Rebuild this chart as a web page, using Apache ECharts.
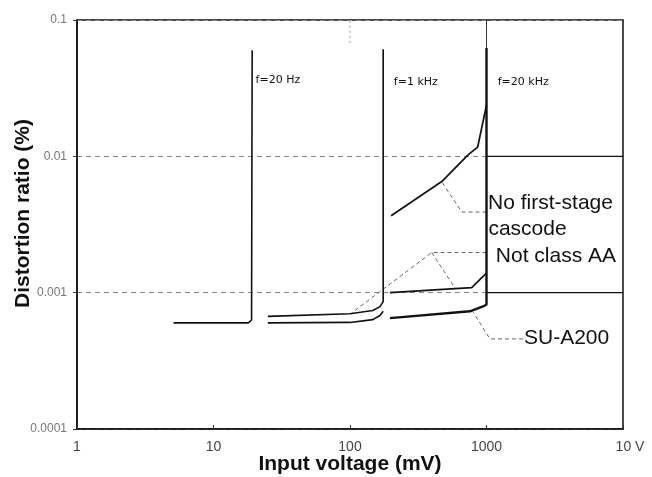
<!DOCTYPE html>
<html>
<head>
<meta charset="utf-8">
<script src="https://cdn.jsdelivr.net/npm/echarts@6/dist/echarts.min.js"></script>
<style>
html,body{margin:0;padding:0;background:#fff;}
#chart{width:652px;height:477px;}
</style>
</head>
<body>
<div id="chart"></div>
<script>
// ---- tick labels ----
const xTickLabels = ['1', '10', '100', '1000', '10 V'];
const yTickLabels = ['0.0001', '0.001', '0.01', '0.1'];

// ---- curves: [input voltage (mV), distortion ratio (%)] ----
const f20Hz       = [[5.1, 0.0006], [18, 0.0006], [19, 0.00063], [19.2, 0.060]];
const notAA_1k    = [[25, 0.00067], [100, 0.0007], [147, 0.00074], [166, 0.00079], [175, 0.00086], [175, 0.061]];
const su_1k       = [[25, 0.0006], [100, 0.000605], [147, 0.000634], [166, 0.00068], [175, 0.00073]];
const cascode_20k = [[200, 0.00367], [470, 0.00653], [736, 0.0103], [862, 0.0117], [1000, 0.0238]];
const notAA_20k   = [[196, 0.001], [779, 0.00109], [948, 0.00132], [1000, 0.0014]];
const su_20k      = [[196, 0.00065], [757, 0.00073], [964, 0.0008], [1000, 0.00082], [1000, 0.0624]];

// ---- reference lines ----
const gridSolid01  = [[1000, 0.01], [10000, 0.01]];
const gridSolid001 = [[1000, 0.001], [10000, 0.001]];
const grid1000Top  = [[1000, 0.0624], [1000, 0.1]];
const grid100Top   = [[100, 0.068], [100, 0.1]];

// ---- leader lines for annotations ----
const leadCascode = [[1000, 0.0039], [660, 0.0039], [470, 0.0065]];
const leadNotAA_a = [[1000, 0.00197], [397, 0.00197], [103, 0.00071]];
const leadNotAA_b = [[397, 0.00197], [588, 0.00108]];
const leadSU      = [[1850, 0.000458], [1060, 0.000458], [990, 0.00051], [800, 0.000718]];

// ---- annotation texts ----
const freqLabels = [[20, 0.0363, 'f=20 Hz'], [206, 0.0353, 'f=1 kHz'], [1188, 0.0353, 'f=20 kHz']];
const noteLabels = [[1010, 0.00456, 'No first-stage'], [1015, 0.00294, 'cascode'],
                    [1150, 0.001845, 'Not class AA'], [1850, 0.00046, 'SU-A200']];

const chart = echarts.init(document.getElementById('chart'), null, {renderer: 'canvas'});

function curve(name, data, w) {
  return {
    name: name, type: 'line', data: data, symbol: 'none', silent: true,
    lineStyle: {color: '#111', width: w || 1.7}, z: 3
  };
}
function leader(data) {
  return {
    type: 'line', data: data, symbol: 'none', silent: true,
    lineStyle: {color: '#555', width: 0.9, type: [4, 3]}, z: 2
  };
}
function textSeries(data, size, family) {
  return {
    type: 'scatter', data: data, symbolSize: 0, silent: true, z: 5,
    itemStyle: {color: '#000', opacity: 1},
    label: {
      show: true, position: 'right', distance: 1,
      formatter: p => p.value[2],
      color: '#111', opacity: 1, fontSize: size, fontFamily: family
    }
  };
}

const option = {
  animation: false,
  backgroundColor: '#fff',
  grid: {left: 77, right: 29, top: 20, bottom: 48, containLabel: false, outerBoundsMode: 'none',
         show: true, borderColor: '#111', borderWidth: 1.5},
  xAxis: {
    type: 'log', logBase: 10, min: 1, max: 10000,
    name: 'Input voltage (mV)', nameLocation: 'middle', nameGap: 25, nameMoveOverlap: false,
    nameTextStyle: {fontSize: 21, fontWeight: 'bold', color: '#111', fontFamily: 'Liberation Sans, Arial, sans-serif'},
    axisLine: {lineStyle: {color: '#111', width: 1.5}},
    axisTick: {inside: true, length: 4, lineStyle: {color: '#333'}},
    splitLine: {show: false},
    axisLabel: {
      margin: 11, color: '#444', fontSize: 14,
      fontFamily: 'Liberation Sans Narrow, Liberation Sans, Arial, sans-serif',
      showMaxLabel: true, showMinLabel: true,
      formatter: v => {
        const i = Math.round(Math.log10(v));
        return i === 4 ? '{v|' + xTickLabels[i] + '}' : xTickLabels[i];
      },
      rich: {v: {color: '#444', fontSize: 14, padding: [0, 0, 0, 14],
                 fontFamily: 'Liberation Sans Narrow, Liberation Sans, Arial, sans-serif'}}
    }
  },
  yAxis: {
    type: 'log', logBase: 10, min: 0.0001, max: 0.1,
    name: 'Distortion ratio (%)', nameLocation: 'middle', nameGap: 43, nameRotate: 90, nameMoveOverlap: false,
    nameTextStyle: {fontSize: 21, fontWeight: 'bold', color: '#111', padding: [0, 0, 0, 22],
                    fontFamily: 'Liberation Sans, Arial, sans-serif'},
    axisLine: {lineStyle: {color: '#111', width: 1.5}},
    axisTick: {inside: false, length: 4, lineStyle: {color: '#333'}},
    splitLine: {show: true, lineStyle: {color: '#888', width: 1, type: [5, 4]}},
    axisLabel: {
      margin: 10, color: '#777', fontSize: 12,
      fontFamily: 'Liberation Sans Narrow, Liberation Sans, Arial, sans-serif',
      showMaxLabel: true, showMinLabel: true,
      formatter: v => yTickLabels[Math.round(Math.log10(v)) + 4]
    }
  },
  series: [
    {type: 'line', data: gridSolid01, symbol: 'none', silent: true, lineStyle: {color: '#111', width: 1.2}, z: 2},
    {type: 'line', data: gridSolid001, symbol: 'none', silent: true, lineStyle: {color: '#111', width: 1.2}, z: 2},
    {type: 'line', data: grid1000Top, symbol: 'none', silent: true, lineStyle: {color: '#333', width: 1}, z: 2},
    {type: 'line', data: grid100Top, symbol: 'none', silent: true, lineStyle: {color: '#999', width: 1, type: [2, 3]}, z: 2},
    curve('f = 20 Hz', f20Hz, 1.6),
    curve('Not class AA 1 kHz', notAA_1k, 1.6),
    curve('SU-A200 1 kHz', su_1k, 1.6),
    curve('No first-stage cascode 20 kHz', cascode_20k, 1.7),
    curve('Not class AA 20 kHz', notAA_20k, 1.7),
    curve('SU-A200 20 kHz', su_20k, 2.4),
    leader(leadCascode), leader(leadNotAA_a), leader(leadNotAA_b), leader(leadSU),
    textSeries(freqLabels, 11, 'DejaVu Sans, sans-serif'),
    textSeries(noteLabels, 21, 'Liberation Sans, Arial, sans-serif')
  ]
};
chart.setOption(option);
</script>
</body>
</html>
